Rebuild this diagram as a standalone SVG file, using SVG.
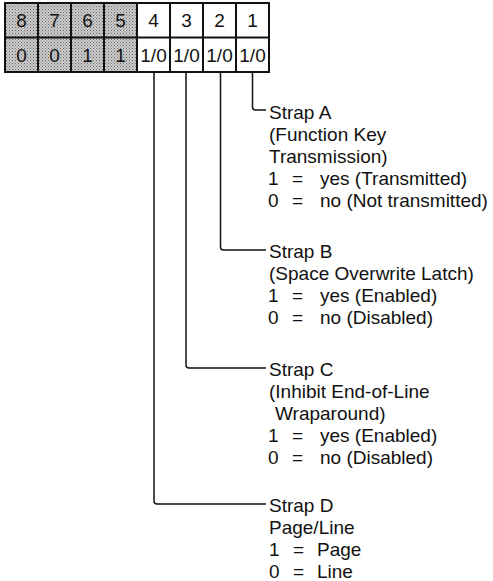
<svg xmlns="http://www.w3.org/2000/svg" width="493" height="581" viewBox="0 0 493 581">
<defs>
<pattern id="ht" width="3" height="3" patternUnits="userSpaceOnUse">
<rect width="3" height="3" fill="#cdcdcd"/>
<rect x="0" y="0" width="1" height="1" fill="#666"/>
<rect x="1.5" y="1.5" width="1" height="1" fill="#777"/>
</pattern>
</defs>
<style>
text{font-family:"Liberation Sans",Arial,sans-serif;font-size:19px;fill:#111}
.cell{text-anchor:middle}
.grid{fill:none;stroke:#111;stroke-width:2}
.con{fill:none;stroke:#111;stroke-width:1.5}
</style>
<rect width="493" height="581" fill="#fff"/>
<g id="register">
<rect x="5" y="3" width="132" height="69" fill="url(#ht)"/>
<rect x="5" y="3" width="264" height="69" class="grid"/>
<line x1="5" y1="37.5" x2="269" y2="37.5" class="grid"/>
<line x1="38" y1="3" x2="38" y2="72" class="grid"/>
<line x1="71" y1="3" x2="71" y2="72" class="grid"/>
<line x1="104" y1="3" x2="104" y2="72" class="grid"/>
<line x1="137" y1="3" x2="137" y2="72" class="grid"/>
<line x1="170" y1="3" x2="170" y2="72" class="grid"/>
<line x1="203" y1="3" x2="203" y2="72" class="grid"/>
<line x1="236" y1="3" x2="236" y2="72" class="grid"/>
<text class="cell" x="21.5" y="27">8</text>
<text class="cell" x="54.5" y="27">7</text>
<text class="cell" x="87.5" y="27">6</text>
<text class="cell" x="120.5" y="27">5</text>
<text class="cell" x="153.5" y="27">4</text>
<text class="cell" x="186.5" y="27">3</text>
<text class="cell" x="219.5" y="27">2</text>
<text class="cell" x="252.5" y="27">1</text>
<text class="cell" x="21.5" y="62">0</text>
<text class="cell" x="54.5" y="62">0</text>
<text class="cell" x="87.5" y="62">1</text>
<text class="cell" x="120.5" y="62">1</text>
<text class="cell" x="153.5" y="62">1/0</text>
<text class="cell" x="186.5" y="62">1/0</text>
<text class="cell" x="219.5" y="62">1/0</text>
<text class="cell" x="252.5" y="62">1/0</text>
</g>
<g id="connectors">
<path class="con" d="M252.5 72 V107 Q252.5 110 255.5 110 H266"/>
<path class="con" d="M220.5 72 V247 Q220.5 250 223.5 250 H266"/>
<path class="con" d="M186 72 V365 Q186 368 189 368 H266"/>
<path class="con" d="M154 72 V501 Q154 504 157 504 H266"/>
</g>
<g id="strapA">
<text x="269" y="119">Strap A</text>
<text x="269" y="141">(Function Key</text>
<text x="269" y="163">Transmission)</text>
<text y="185"><tspan x="268">1</tspan><tspan x="292">=</tspan><tspan x="320">yes (Transmitted)</tspan></text>
<text y="207"><tspan x="268">0</tspan><tspan x="292">=</tspan><tspan x="320">no (Not transmitted)</tspan></text>
</g>
<g id="strapB">
<text x="269" y="258">Strap B</text>
<text x="269" y="280">(Space Overwrite Latch)</text>
<text y="302"><tspan x="268">1</tspan><tspan x="292">=</tspan><tspan x="320">yes (Enabled)</tspan></text>
<text y="324"><tspan x="268">0</tspan><tspan x="292">=</tspan><tspan x="320">no (Disabled)</tspan></text>
</g>
<g id="strapC">
<text x="269" y="376">Strap C</text>
<text x="269" y="398">(Inhibit End-of-Line</text>
<text x="275" y="420">Wraparound)</text>
<text y="442"><tspan x="268">1</tspan><tspan x="292">=</tspan><tspan x="320">yes (Enabled)</tspan></text>
<text y="464"><tspan x="268">0</tspan><tspan x="292">=</tspan><tspan x="320">no (Disabled)</tspan></text>
</g>
<g id="strapD">
<text x="269" y="512">Strap D</text>
<text x="269" y="534">Page/Line</text>
<text y="556"><tspan x="269">1</tspan><tspan x="293">=</tspan><tspan x="317">Page</tspan></text>
<text y="578"><tspan x="269">0</tspan><tspan x="293">=</tspan><tspan x="317">Line</tspan></text>
</g>
</svg>
